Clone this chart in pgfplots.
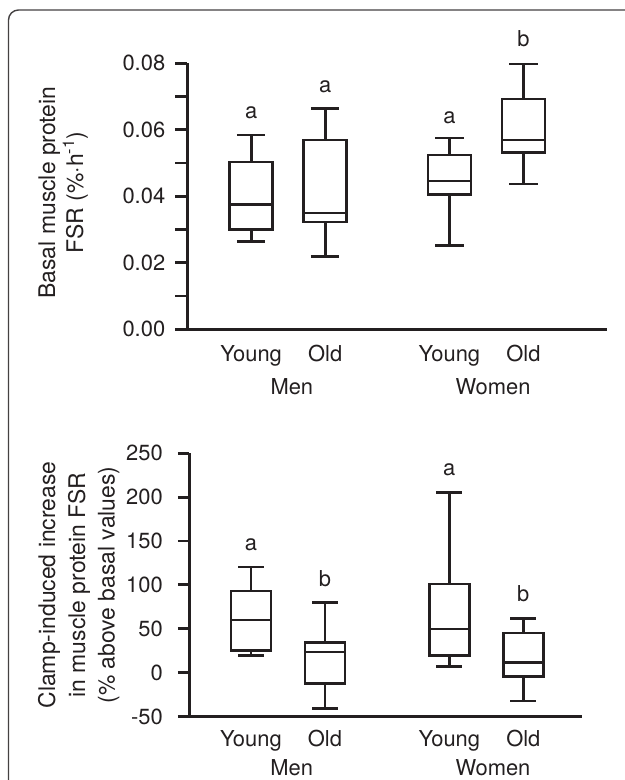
\documentclass[border=0pt]{standalone}
\usepackage{fontspec}
\setmainfont{TeX Gyre Heros}
\usepackage{pgfplots}
\pgfplotsset{compat=1.18}
\usepgfplotslibrary{statistics}
\definecolor{ink}{HTML}{231F20}
\begin{document}
\begin{tikzpicture}[font=\fontsize{22}{26}\selectfont, text=ink]
\path[use as bounding box] (0,0) rectangle (625bp,780bp);
\draw[ink!85, line width=1.4bp, rounded corners=10bp] (8.5bp,-20bp) -- (8.5bp,770bp) -- (660bp,770bp);

% ---------- top panel ----------
\begin{axis}[
  at={(187.4bp,450.7bp)}, anchor=south west,
  scale only axis, width=419.6bp, height=266bp,
  xmin=0.138, xmax=5.81, ymin=0, ymax=0.08,
  axis x line*=bottom, axis y line*=left,
  axis line style={-, ink, line width=2.8bp},
  xtick=\empty,
  scaled y ticks=false,
  ytick={0,0.02,0.04,0.06,0.08},
  yticklabels={0.00,0.02,0.04,0.06,0.08},
  minor ytick={0.01,0.03,0.05,0.07},
  tick align=outside, major tick length=12bp, minor tick length=12bp,
  tick style={ink, line width=2.8bp},
  yticklabel style={inner sep=0pt, xshift=-10bp, text=ink},
  clip=false,
  boxplot/draw direction=y,
]
\addplot[ink, line width=2.7bp, boxplot prepared={draw position=1,
  lower whisker=0.0265, lower quartile=0.0301, median=0.0376,
  upper quartile=0.0503, upper whisker=0.0584, box extend=0.58, whisker extend=0.385}] coordinates {};
\addplot[ink, line width=2.7bp, boxplot prepared={draw position=2,
  lower whisker=0.0219, lower quartile=0.0323, median=0.0350,
  upper quartile=0.0569, upper whisker=0.0663, box extend=0.58, whisker extend=0.385}] coordinates {};
\addplot[ink, line width=2.7bp, boxplot prepared={draw position=3.68,
  lower whisker=0.0252, lower quartile=0.0406, median=0.0446,
  upper quartile=0.0524, upper whisker=0.0575, box extend=0.58, whisker extend=0.385}] coordinates {};
\addplot[ink, line width=2.7bp, boxplot prepared={draw position=4.68,
  lower whisker=0.0437, lower quartile=0.0532, median=0.0569,
  upper quartile=0.0693, upper whisker=0.0798, box extend=0.58, whisker extend=0.385}] coordinates {};
\node[anchor=base] at (axis cs:1,0.06325) {a};
\node[anchor=base] at (axis cs:2,0.07116) {a};
\node[anchor=base] at (axis cs:3.68,0.06195) {a};
\node[anchor=base] at (axis cs:4.68,0.0850) {b};
\node[anchor=base, yshift=-32.4bp] at (axis cs:1,0) {Young};
\node[anchor=base, yshift=-32.4bp] at (axis cs:2,0) {Old};
\node[anchor=base, yshift=-32.4bp] at (axis cs:3.68,0) {Young};
\node[anchor=base, yshift=-32.4bp] at (axis cs:4.68,0) {Old};
\node[anchor=base, yshift=-65.7bp] at (axis cs:1.55,0) {Men};
\node[anchor=base, yshift=-65.7bp] at (axis cs:4.27,0) {Women};
\end{axis}
\node[rotate=90, anchor=base, font=\fontsize{23}{27}\selectfont] at (55bp,587.5bp) {Basal muscle protein};
\node[rotate=90, anchor=base, font=\fontsize{23}{27}\selectfont] at (83bp,587.5bp) {FSR (\%·h\textsuperscript{-1})};

% ---------- bottom panel ----------
\begin{axis}[
  at={(189.4bp,63.5bp)}, anchor=south west,
  scale only axis, width=392.6bp, height=263.2bp,
  xmin=0.168, xmax=5.473, ymin=-50, ymax=250,
  axis x line*=bottom, axis y line*=left,
  axis line style={-, ink, line width=2.8bp},
  xtick=\empty,
  scaled y ticks=false,
  ytick={-50,0,50,100,150,200,250},
  yticklabels={-50,0,50,100,150,200,250},
  tick align=outside, major tick length=11.5bp,
  tick style={ink, line width=2.8bp},
  yticklabel style={inner sep=0pt, xshift=-15bp, text=ink},
  clip=false,
  boxplot/draw direction=y,
]
\addplot[ink, line width=2.7bp, boxplot prepared={draw position=1,
  lower whisker=19.6, lower quartile=25.3, median=59.9,
  upper quartile=93.0, upper whisker=120.4, box extend=0.54, whisker extend=0.35}] coordinates {};
\addplot[ink, line width=2.7bp, boxplot prepared={draw position=2,
  lower whisker=-40.5, lower quartile=-12.7, median=23.4,
  upper quartile=34.1, upper whisker=79.8, box extend=0.54, whisker extend=0.35}] coordinates {};
\addplot[ink, line width=2.7bp, boxplot prepared={draw position=3.68,
  lower whisker=7.1, lower quartile=19.6, median=49.7,
  upper quartile=101.0, upper whisker=205.7, box extend=0.54, whisker extend=0.35}] coordinates {};
\addplot[ink, line width=2.7bp, boxplot prepared={draw position=4.68,
  lower whisker=-32.5, lower quartile=-4.3, median=11.3,
  upper quartile=45.1, upper whisker=61.9, box extend=0.54, whisker extend=0.35}] coordinates {};
\node[anchor=base] at (axis cs:1,139.5) {a};
\node[anchor=base] at (axis cs:2,98.4) {b};
\node[anchor=base] at (axis cs:3.68,225.1) {a};
\node[anchor=base] at (axis cs:4.68,81.3) {b};
\node[anchor=base, yshift=-30.2bp] at (axis cs:1,-50) {Young};
\node[anchor=base, yshift=-30.2bp] at (axis cs:2,-50) {Old};
\node[anchor=base, yshift=-30.2bp] at (axis cs:3.68,-50) {Young};
\node[anchor=base, yshift=-30.2bp] at (axis cs:4.68,-50) {Old};
\node[anchor=base, yshift=-59bp] at (axis cs:1.55,-50) {Men};
\node[anchor=base, yshift=-59bp] at (axis cs:4.27,-50) {Women};
\end{axis}
\node[rotate=90, anchor=base, font=\fontsize{23}{27}\selectfont] at (55bp,195bp) {Clamp-induced increase};
\node[rotate=90, anchor=base, font=\fontsize{23}{27}\selectfont] at (85bp,195bp) {in muscle protein FSR};
\node[rotate=90, anchor=base, font=\fontsize{23}{27}\selectfont] at (114.5bp,195bp) {(\% above basal values)};
\end{tikzpicture}
\end{document}
